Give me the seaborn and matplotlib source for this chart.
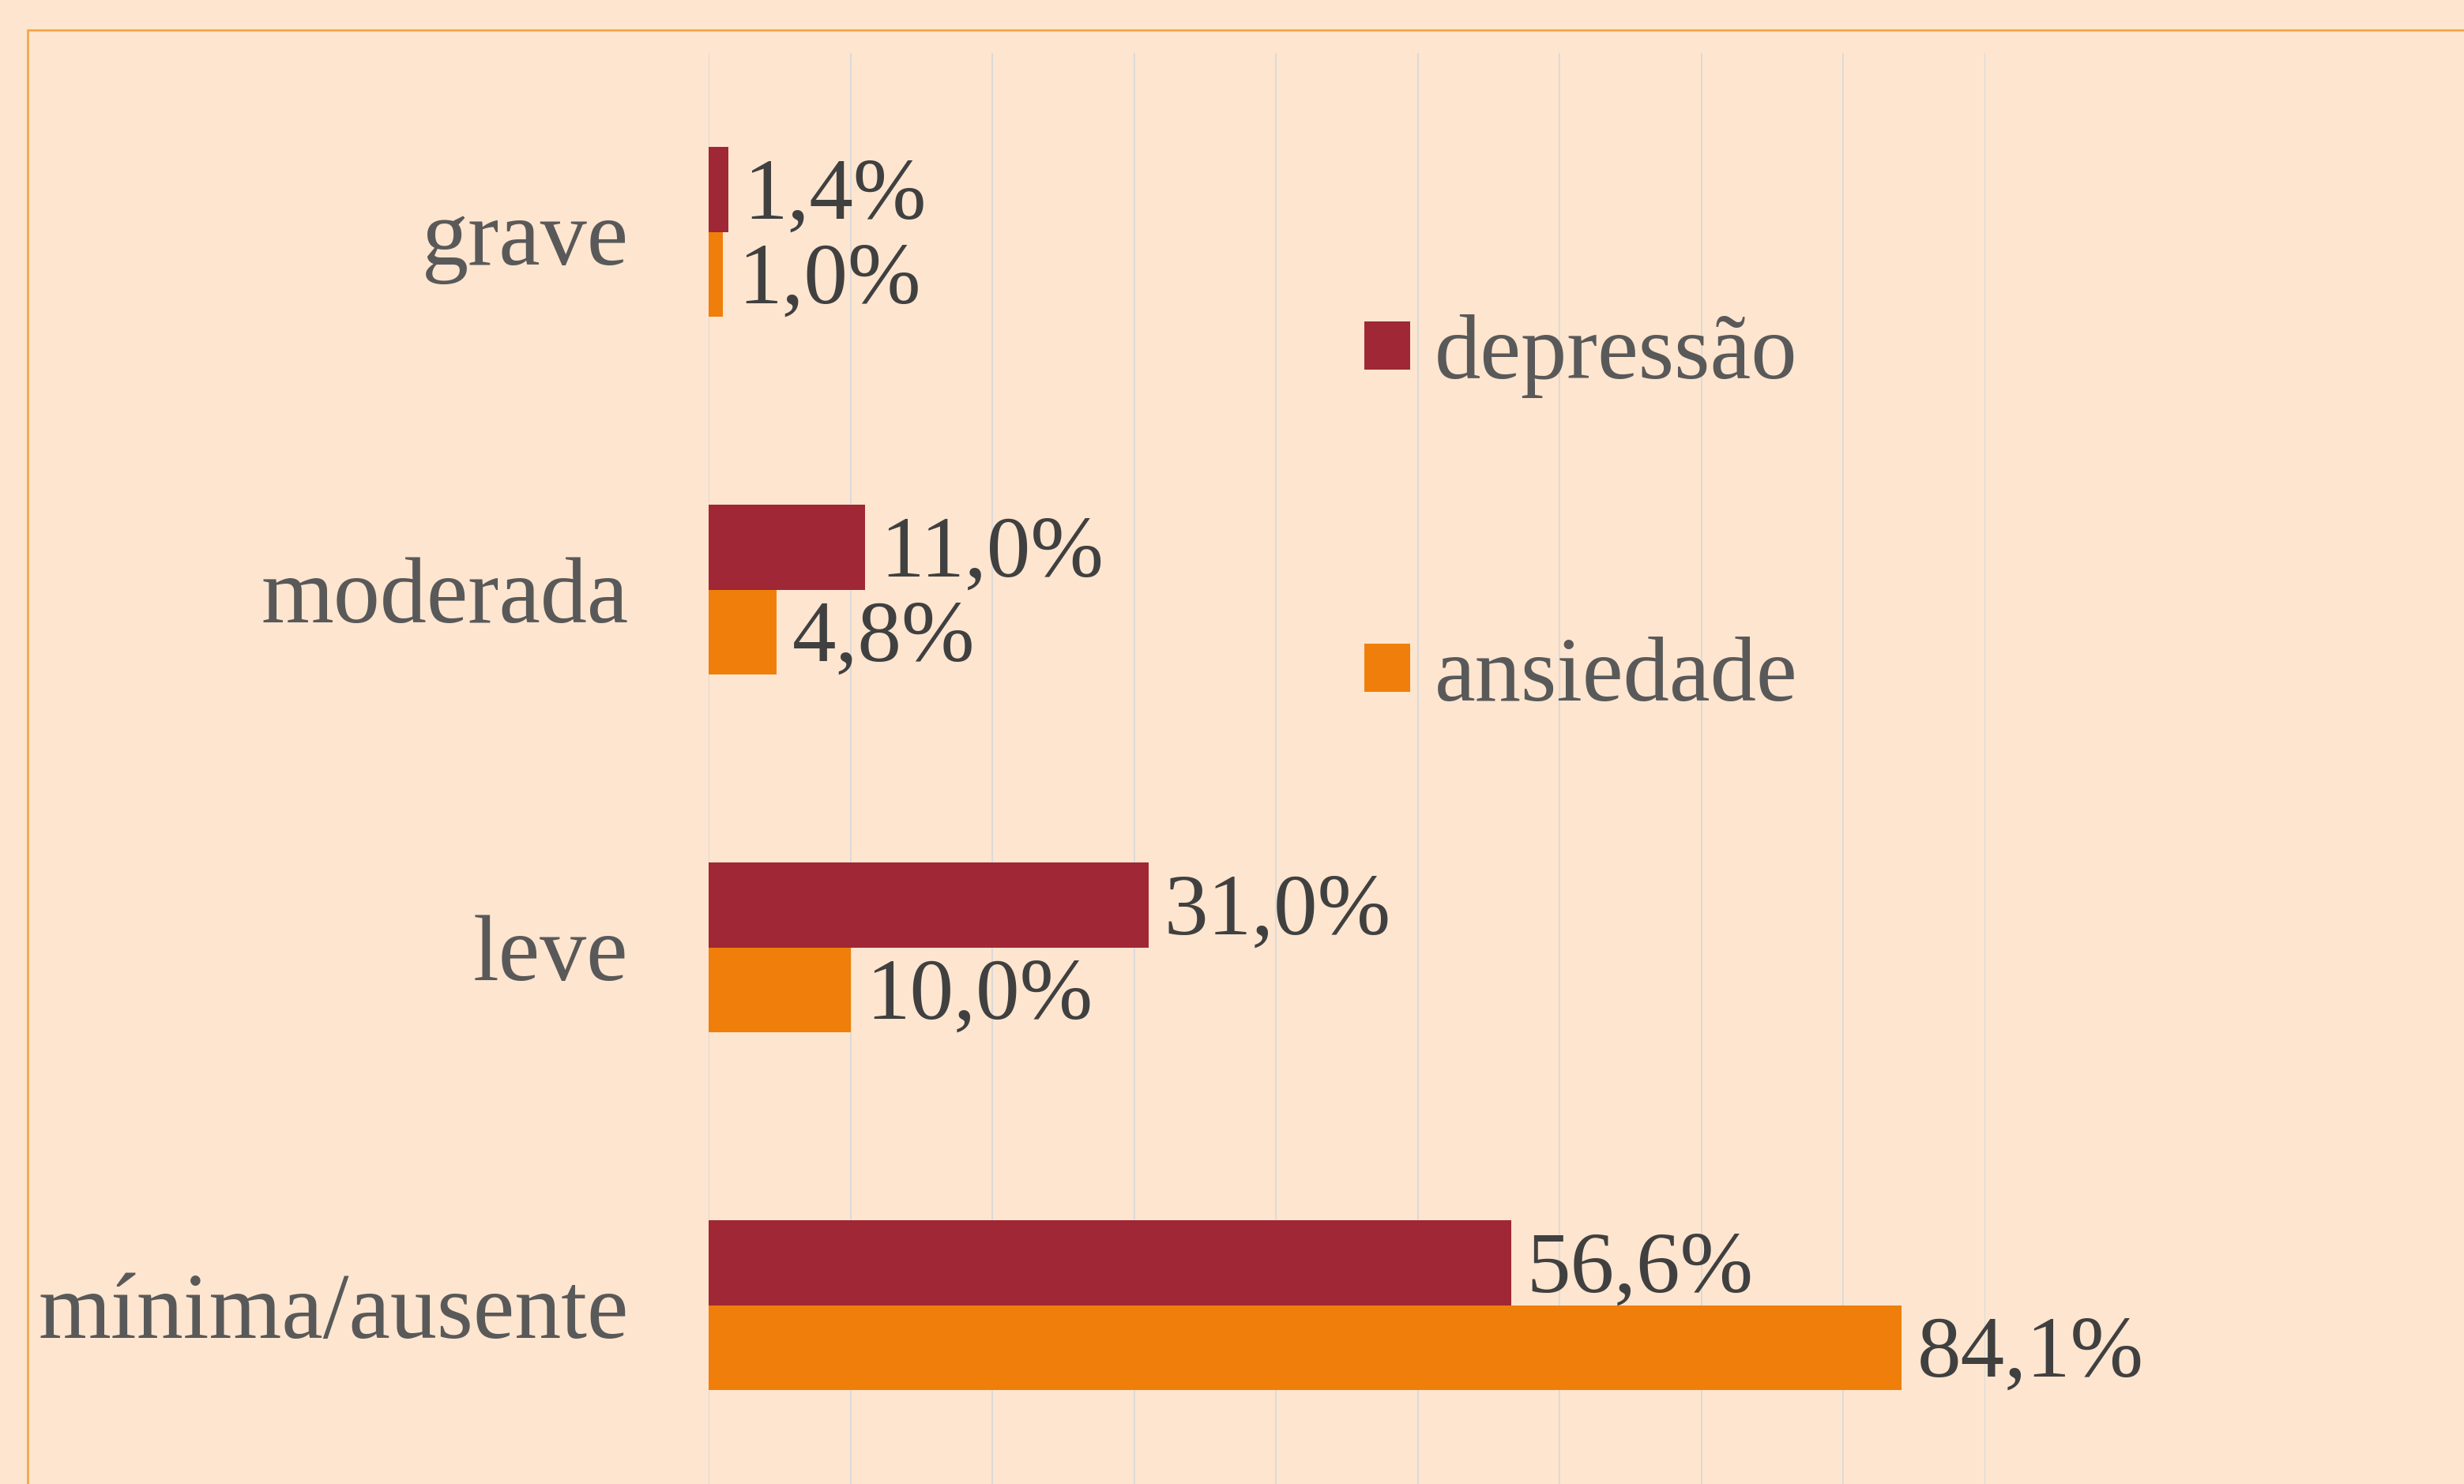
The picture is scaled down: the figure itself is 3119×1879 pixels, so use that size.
import matplotlib
matplotlib.use("Agg")
import matplotlib.pyplot as plt
import seaborn as sns
import pandas as pd
from matplotlib.patches import Rectangle, Patch

categories = ["grave", "moderada", "leve", "mínima/ausente"]
series_names = ["depressão", "ansiedade"]
depressao = [1.4, 11.0, 31.0, 56.6]
ansiedade = [1.0, 4.8, 10.0, 84.1]
colors = ["#A02735", "#EF7F0A"]

rows = []
for c, d, a in zip(categories, depressao, ansiedade):
    rows.append({"cat": c, "serie": series_names[0], "val": d})
    rows.append({"cat": c, "serie": series_names[1], "val": a})
df = pd.DataFrame(rows)

sns.set_theme(style="white")
plt.rcParams["font.family"] = ["Liberation Serif", "DejaVu Serif"]

bg = "#FDE5CF"
W, H = 3119, 1879
fig = plt.figure(figsize=(W / 100, H / 100), dpi=100, facecolor=bg)

# border of the chart area (partially cropped)
fig.patches.append(Rectangle((35 / W, -0.1), 1.2, 1 - 38 / H + 0.1,
                             transform=fig.transFigure, fill=False,
                             edgecolor="#F5A040", linewidth=1.8, zorder=0))

x0 = 897 / W
x1 = 2513 / W
top = 1 - 67 / H
ax = fig.add_axes([x0, 0, x1 - x0, top])
ax.set_facecolor("none")

sns.barplot(data=df, y="cat", x="val", hue="serie", orient="h",
            palette=colors, hue_order=series_names, order=categories,
            width=0.474, gap=0, linewidth=0, saturation=1, ax=ax, legend=False,
            errorbar=None, zorder=3)

ax.set_xlim(0, 90)
ax.set_ylim(3.5, -0.5)
ax.set_xticks(range(0, 91, 10))
ax.xaxis.grid(True, color="#D9D9D9", linewidth=1.3, zorder=0)
ax.set_axisbelow(True)
for s in ax.spines.values():
    s.set_visible(False)
ax.set_xticklabels([])
ax.tick_params(axis="x", length=0)
ax.tick_params(axis="y", length=0, pad=73, labelsize=85, labelcolor="#595959")
ax.set_xlabel("")
ax.set_ylabel("")

for cont in ax.containers:
    labels = [f"{b.get_width():.1f}%".replace(".", ",") for b in cont]
    texts = ax.bar_label(cont, labels=labels, padding=14, fontsize=80, color="#404040")
    for t in texts:
        t.xyann = (14, -7)

handles = [Patch(facecolor=colors[i], edgecolor="none", label=series_names[i]) for i in range(2)]
leg = ax.legend(handles=handles, loc="upper left",
                bbox_to_anchor=((1727 - 897) / (2513 - 897), 1 - (398 - 67) / (H - 67)),
                frameon=False, fontsize=84, handlelength=0.5, handleheight=0.43,
                handletextpad=0.26, labelspacing=2.59, borderpad=0, borderaxespad=0)
for t in leg.get_texts():
    t.set_color("#595959")

fig.savefig("out.png", dpi=100, facecolor=bg)
